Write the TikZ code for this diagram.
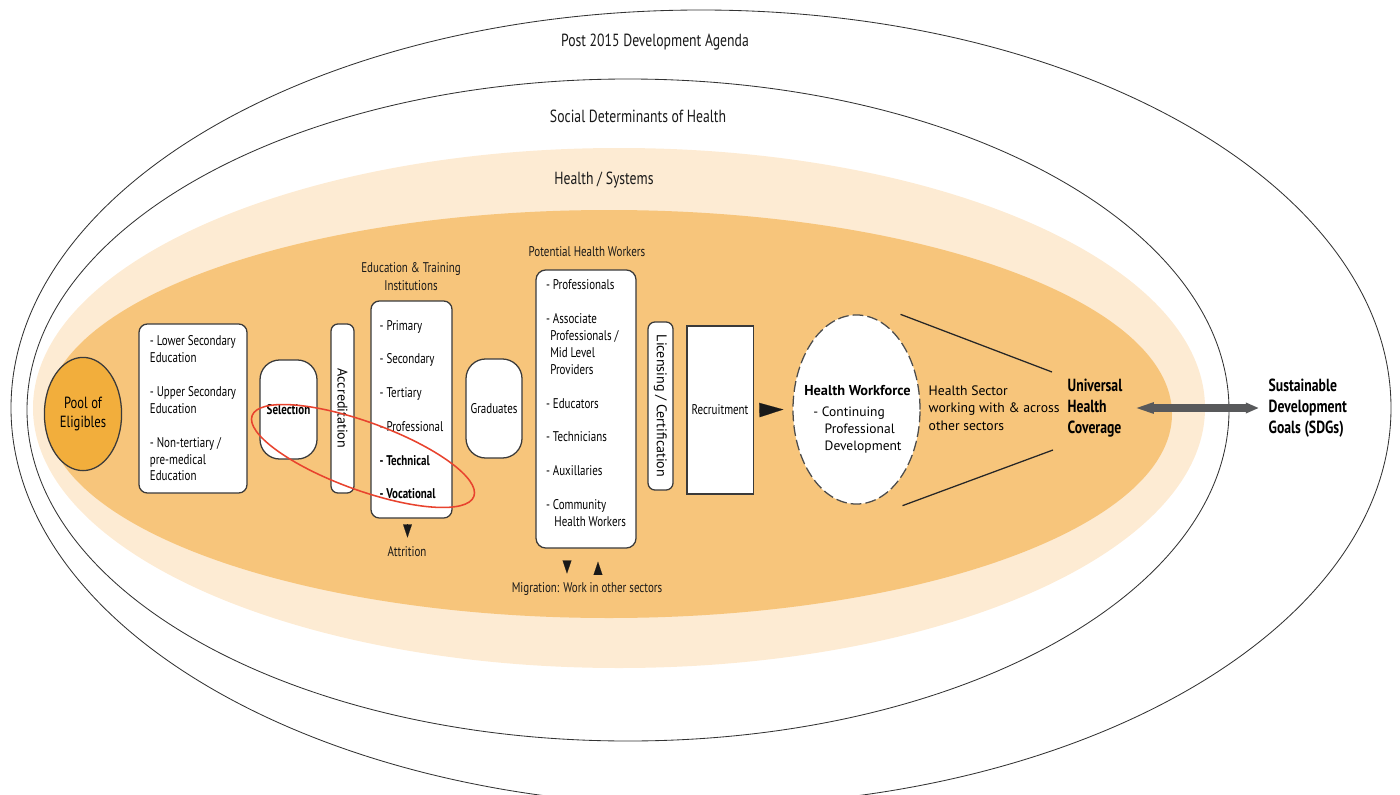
\documentclass[tikz,border=0pt]{standalone}
\usepackage{fontspec}
\setmainfont{PT Sans}[FakeStretch=0.78]
\newfontfamily\widesans{PT Sans}
\usetikzlibrary{shapes.geometric, arrows.meta, positioning, calc}
\definecolor{layerdark}{HTML}{F7C57B}
\definecolor{layerlight}{HTML}{FDEBD3}
\definecolor{poolorange}{HTML}{F2AE3C}
\definecolor{outlinegray}{HTML}{3A3A3A}
\definecolor{speargray}{HTML}{58595B}
\definecolor{focusred}{HTML}{E8432E}

\begin{document}
\begin{tikzpicture}[
    x=0.025cm, y=-0.025cm,
    ring/.style={draw=black!80, line width=0.6pt},
    ringlabel/.style={font=\fontsize{12.5}{15}\selectfont, text=black!90},
    listbox/.style={
        draw=outlinegray,
        line width=0.9pt,
        fill=white,
        rounded corners=6pt,
        align=left,
        font=\fontsize{10}{12}\selectfont
    },
    pill/.style={
        draw=outlinegray,
        line width=0.9pt,
        fill=white,
        rounded corners=14pt,
        inner sep=0pt,
        font=\fontsize{10}{12}\selectfont
    },
    bar/.style={
        draw=outlinegray,
        line width=0.9pt,
        fill=white,
        rounded corners=5pt,
        rotate=-90,
        inner sep=0pt,
        font=\widesans\fontsize{10}{12}\selectfont
    },
    caption/.style={font=\fontsize{10}{12.5}\selectfont, align=center, text=black!90},
    pool/.style={
        ellipse,
        draw=outlinegray,
        line width=0.9pt,
        fill=poolorange,
        minimum width=1.93cm,
        minimum height=2.83cm,
        inner sep=0pt,
        align=center,
        font=\fontsize{11.5}{14}\selectfont
    },
    workforce/.style={
        ellipse,
        draw=black!70,
        line width=0.9pt,
        dash pattern=on 0.27cm off 0.1cm,
        fill=white,
        minimum width=3.175cm,
        minimum height=4.725cm
    },
    wftext/.style={font=\widesans\fontsize{9.6}{12}\selectfont, align=center},
    sector/.style={font=\widesans\fontsize{9.7}{12.4}\selectfont, align=left, inner sep=1pt},
    goal/.style={font=\fontsize{12.5}{15}\selectfont\bfseries, align=left, inner sep=1pt},
    tri/.style={-{Triangle[length=0.33cm, width=0.22cm]}, line width=0.1pt, draw=black!90},
    bigtri/.style={-{Triangle[length=0.6cm, width=0.36cm]}, line width=0.1pt, draw=black!90},
    link/.style={draw=black!85, line width=0.9pt},
    spear/.style={
        {Triangle[length=0.5cm, width=0.25cm]}-{Triangle[length=0.33cm, width=0.25cm]},
        line width=0.22cm,
        draw=speargray
    },
    focus/.style={draw=focusred, line width=1.1pt}
]
\useasboundingbox (0,0) rectangle (1400,795);

% Context rings
\draw[ring] (701,408) ellipse [x radius=690, y radius=398];
\draw[ring] (628,410) ellipse [x radius=601, y radius=331];
\fill[layerlight] (619,408) ellipse [x radius=586, y radius=260];
\fill[layerdark] (609,414) ellipse [x radius=563, y radius=204];

\node[ringlabel] (agenda) at (655,42) {Post 2015 Development Agenda};
\node[ringlabel] (determinants) at (638,116) {Social Determinants of Health};
\node[ringlabel] (systems) at (604,180) {Health / Systems};

% Pipeline (left to right)
\node[pool] (pool) at (83,414) {Pool of\\Eligibles};
\node[listbox, minimum width=2.7cm, minimum height=4.225cm] (schooling) at (193,408.5)
    {- Lower Secondary\\Education\\[12pt]- Upper Secondary\\Education\\[12pt]- Non-tertiary /\\pre-medical\\Education};
\node[pill, minimum width=1.425cm, minimum height=2.475cm, font=\fontsize{10}{12}\selectfont\bfseries] (selection) at (288.5,409.5) {Selection};
\node[bar, minimum width=4.225cm, minimum height=0.575cm] (accreditation) at (342.5,408.5) {Accreditation};

\node[caption] (edutitle) at (411,276.5) {Education \& Training\\Institutions};
\node[listbox, minimum width=2.025cm, minimum height=5.425cm] (institutions) at (411.5,409.5)
    {- Primary\\[12pt]- Secondary\\[12pt]- Tertiary\\[12pt]- Professional\\[12pt]\textbf{- Technical}\\[12pt]\textbf{- Vocational}};
\node[caption] (attrition) at (407,552) {Attrition};
\draw[tri] ($(institutions.south)+(-4,6)$) -- ++(0,13);

\node[pill, minimum width=1.4cm, minimum height=2.475cm] (graduates) at (494,408.5) {Graduates};

\node[caption] (phwtitle) at (587,252) {Potential Health Workers};
\node[listbox, minimum width=2.5cm, minimum height=6.95cm, rounded corners=7pt] (workers) at (586,409)
    {- Professionals\\[12pt]- Associate\\\hspace*{3pt}Professionals /\\\hspace*{3pt}Mid Level\\\hspace*{3pt}Providers\\[12pt]- Educators\\[12pt]- Technicians\\[12pt]- Auxillaries\\[12pt]- Community\\\hspace*{6pt}Health Workers\\[-3.5pt]};
\node[caption] (migration) at (587,589) {Migration: Work in other sectors};
\draw[tri] ($(workers.south)+(-19,13)$) -- ++(0,12);
\draw[tri] ($(workers.south)+(12,25)$) -- ++(0,-12);

\node[bar, minimum width=4.2cm, minimum height=0.625cm] (licensing) at (660.5,406) {Licensing / Certification};
\node[draw=outlinegray, line width=0.9pt, fill=white, minimum width=1.6cm, minimum height=4.2cm, font=\fontsize{10}{12}\selectfont] (recruitment) at (720,410) {Recruitment};

\node[workforce] (workforce) at (856.5,409.5) {};
\node[wftext] (wfbody) at ($(workforce.center)+(1,11)$)
    {\textbf{\fontsize{10.2}{12}\selectfont Health Workforce}\\[5pt]\begin{tabular}{@{}l@{}}- Continuing\\\hspace*{8pt}Professional\\\hspace*{8pt}Development\end{tabular}};
\draw[bigtri] ($(recruitment.east)+(8,0)$) -- ($(workforce.west)+(-9,0)$);

% Outcomes
\node[sector, anchor=west] (sector) at (927,408) {Health Sector\\working with \& across\\other sectors};
\node[goal, anchor=west] (uhc) at (1066,408) {Universal\\Health\\Coverage};
\node[goal, anchor=west] (sdg) at (1267,408) {Sustainable\\Development\\Goals (SDGs)};

\draw[link] ($(workforce.north)+(44,0)$) -- ($(uhc.west)+(-14,-36)$);
\draw[link] ($(workforce.south)+(46,1)$) -- ($(uhc.west)+(-13,42)$);
\draw[spear] ($(uhc.east)+(10,0)$) -- ($(sdg.west)+(-8,0)$);

% Highlight
\draw[focus, rotate around={-20:(363,456)}] (363,456) ellipse [x radius=118, y radius=34];

\end{tikzpicture}
\end{document}
